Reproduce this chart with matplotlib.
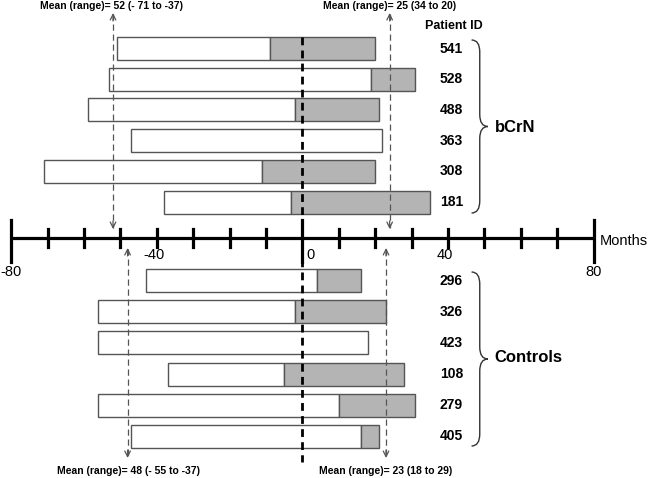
import numpy as np
import matplotlib.pyplot as plt
from matplotlib.path import Path
from matplotlib.patches import PathPatch

plt.rcParams['font.family'] = ['Liberation Sans', 'DejaVu Sans']

# bCrN patients (months relative to time 0)
bcrn_ids = ["541", "528", "488", "363", "308", "181"]
bcrn_start = [-51, -53, -59, -47, -71, -38]
bcrn_grey = [-9, 19, -2, None, -11, -3]
bcrn_end = [20, 31, 21, 22, 20, 35]

# control patients
ctrl_ids = ["296", "326", "423", "108", "279", "405"]
ctrl_start = [-43, -56, -56, -37, -56, -47]
ctrl_grey = [4, -2, None, -5, 10, 16]
ctrl_end = [16, 23, 18, 28, 31, 21]

tick_months = list(range(-80, 81, 10))
label_months = [-80, -40, 0, 40, 80]

mean_texts = ["Mean (range)= 52 (- 71 to -37)", "Mean (range)= 25 (34 to 20)",
              "Mean (range)= 48 (- 55 to -37)", "Mean (range)= 23 (18 to 29)"]
mean_vals = [-52, 24, -48, 23]

fig = plt.figure(figsize=(6.5, 4.78), dpi=100)
ax = fig.add_axes([0, 0, 1, 1])
# x in months, y in pixel rows from the top
x0px, pxm = 302.3, 3.64
ax.set_xlim(-x0px / pxm, (650 - x0px) / pxm)
ax.set_ylim(478, 0)
ax.axis("off")

bar_h = 23
grey = "#b4b4b4"
edge = "#555555"


def draw_group(ids, start, gstart, end, y_first, step):
    ys = y_first + step * np.arange(len(ids))
    for y, pid, s, g, e in zip(ys, ids, start, gstart, end):
        split = e if g is None else g
        ax.barh(y, split - s, left=s, height=bar_h, color="white",
                edgecolor=edge, linewidth=1, zorder=2)
        if g is not None:
            ax.barh(y, e - g, left=g, height=bar_h, color=grey,
                    edgecolor=edge, linewidth=1, zorder=2)
        ax.text(41, y, pid, ha="center", va="center", fontsize=10,
                fontweight="bold")
    return ys


ys_b = draw_group(bcrn_ids, bcrn_start, bcrn_grey, bcrn_end, 48.5, 30.7)
ys_c = draw_group(ctrl_ids, ctrl_start, ctrl_grey, ctrl_end, 280.7, 31.1)

ax.text(41.7, 26, "Patient ID", ha="center", va="center", fontsize=9,
        fontweight="bold")

# months axis
axis_y = 238
ax.plot([-80, 80], [axis_y, axis_y], color="black", lw=2.3,
        solid_capstyle="butt", zorder=3)
for m in tick_months:
    if m in (-80, 0, 80):
        ax.plot([m, m], [220, 262], color="black", lw=2.3, zorder=3)
    else:
        ax.plot([m, m], [229, 247], color="black", lw=2.3, zorder=3)
for m in label_months:
    if m in (-80, 80):
        ax.text(m, 272, str(m), ha="center", va="center", fontsize=10.5)
    elif m == 0:
        ax.text(1, 255, "0", ha="left", va="center", fontsize=10.5)
    else:
        ax.text(m - 0.8, 255, str(m), ha="center", va="center", fontsize=10.5)
ax.text(81.8, 241, "Months", ha="left", va="center", fontsize=10.5)

# dashed zero line
ax.plot([0, 0], [37, 462], color="black", lw=2, linestyle=(0, (2.8, 1.9)),
        zorder=4)


# mean arrows
def mean_arrow(m, y_top, y_bot):
    ax.plot([m, m], [y_top + 1, y_bot - 1], color="#555555", lw=0.9,
            linestyle=(0, (5, 3)), zorder=5)
    for ya, yb in ((y_top + 8, y_top), (y_bot - 8, y_bot)):
        ax.annotate("", xy=(m, yb), xytext=(m, ya),
                    arrowprops=dict(arrowstyle="->", color="#555555", lw=0.9,
                                    mutation_scale=10, shrinkA=0, shrinkB=0),
                    zorder=5)


mean_arrow(mean_vals[0], 13, 229)
mean_arrow(mean_vals[1], 13, 229)
mean_arrow(mean_vals[2], 248, 458)
mean_arrow(mean_vals[3], 248, 458)

ax.text(-52.4, 6, mean_texts[0], ha="center", va="center", fontsize=7.5,
        fontweight="bold")
ax.text(24, 6, mean_texts[1], ha="center", va="center", fontsize=7.5,
        fontweight="bold")
ax.text(-47.8, 471, mean_texts[2], ha="center", va="center", fontsize=7.5,
        fontweight="bold")
ax.text(22.8, 471, mean_texts[3], ha="center", va="center", fontsize=7.5,
        fontweight="bold")


# curly braces
def brace(xl, xr, yt, yb):
    xm = (xl + xr) / 2
    ym = (yt + yb) / 2
    r = 12
    verts = [(xl, yt), (xm, yt), (xm, yt + r), (xm, ym - r), (xm, ym), (xr, ym),
             (xm, ym), (xm, ym + r), (xm, yb - r), (xm, yb), (xl, yb)]
    codes = [Path.MOVETO, Path.CURVE3, Path.CURVE3, Path.LINETO, Path.CURVE3,
             Path.CURVE3, Path.CURVE3, Path.CURVE3, Path.LINETO, Path.CURVE3,
             Path.CURVE3]
    ax.add_patch(PathPatch(Path(verts, codes), fill=False, lw=1,
                           edgecolor="#333333"))


brace(46.5, 51, 40, 213)
brace(46.5, 51, 272, 446)
ax.text(52.9, 127, "bCrN", ha="left", va="center", fontsize=12,
        fontweight="bold")
ax.text(52.9, 358, "Controls", ha="left", va="center", fontsize=12,
        fontweight="bold")

fig.savefig("out.png", dpi=100)
